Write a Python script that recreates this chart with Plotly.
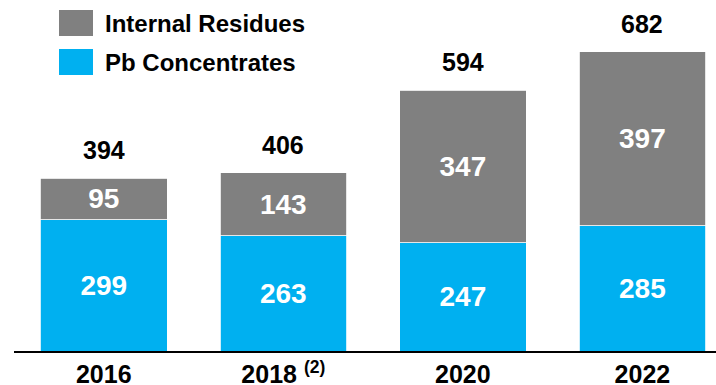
import plotly.graph_objects as go

# Lead feed by source, thousand tonnes
years = ["2016", "2018", "2020", "2022"]
year_labels = ["2016", "2018 <sup>(2)</sup>", "2020", "2022"]
pb_concentrates = [299, 263, 247, 285]
internal_residues = [95, 143, 347, 397]
totals = [394, 406, 594, 682]

series_names = ["Internal Residues", "Pb Concentrates"]
grey = "#808080"
blue = "#00B0F0"
font_family = "Liberation Sans, Arial, sans-serif"

fig = go.Figure()

for name, vals, color in [
    (series_names[1], pb_concentrates, blue),
    (series_names[0], internal_residues, grey),
]:
    fig.add_trace(go.Bar(
        x=years, y=vals, name=name,
        marker=dict(color=color, line=dict(color="white", width=0.8)),
        text=[str(v) for v in vals],
        textposition="inside",
        insidetextanchor="middle",
        textangle=0,
        constraintext="none",
        insidetextfont=dict(family=font_family, size=28, color="white", weight="bold"),
        width=0.705,
        showlegend=False,
        hoverinfo="skip",
    ))

# totals above each stack (x given as category index)
for i, tot in enumerate(totals):
    fig.add_annotation(
        x=i, y=tot, text=str(tot), showarrow=False,
        xref="x", yref="y",
        yanchor="bottom", yshift=12,
        font=dict(family=font_family, size=25, color="black", weight="bold"),
    )

# legend swatches and labels
W, H = 716, 385
ml, mr, mt, mb = 14, 0, 10, 34
pw, ph = W - ml - mr, H - mt - mb

def px(x):
    return (x - ml) / pw

def py(y):
    return (H - mb - y) / ph

legend_items = [(series_names[0], grey, 10, 36), (series_names[1], blue, 49, 75)]
for name, color, y0, y1 in legend_items:
    fig.add_shape(type="rect", xref="paper", yref="paper",
                  x0=px(59), x1=px(93), y0=py(y1), y1=py(y0),
                  fillcolor=color, line=dict(width=0))
    fig.add_annotation(xref="paper", yref="paper", x=px(103), y=py((y0 + y1) / 2 + 1),
                       text=name, showarrow=False, xanchor="left", yanchor="middle",
                       font=dict(family=font_family, size=24, color="black", weight="bold"))

fig.update_layout(
    barmode="stack",
    width=W, height=H,
    margin=dict(l=ml, r=mr, t=mt, b=mb, autoexpand=False),
    plot_bgcolor="white", paper_bgcolor="white",
    xaxis=dict(
        type="category",
        automargin=False,
        tickvals=years, ticktext=year_labels,
        range=[-0.5, 3.41],
        showline=True, linecolor="black", linewidth=2,
        ticks="", showgrid=False,
        ticklabelstandoff=0,
        tickfont=dict(family=font_family, size=25, color="black", weight="bold"),
    ),
    yaxis=dict(range=[0, 777], visible=False, showgrid=False, automargin=False),
)

fig.write_html("out.html")
